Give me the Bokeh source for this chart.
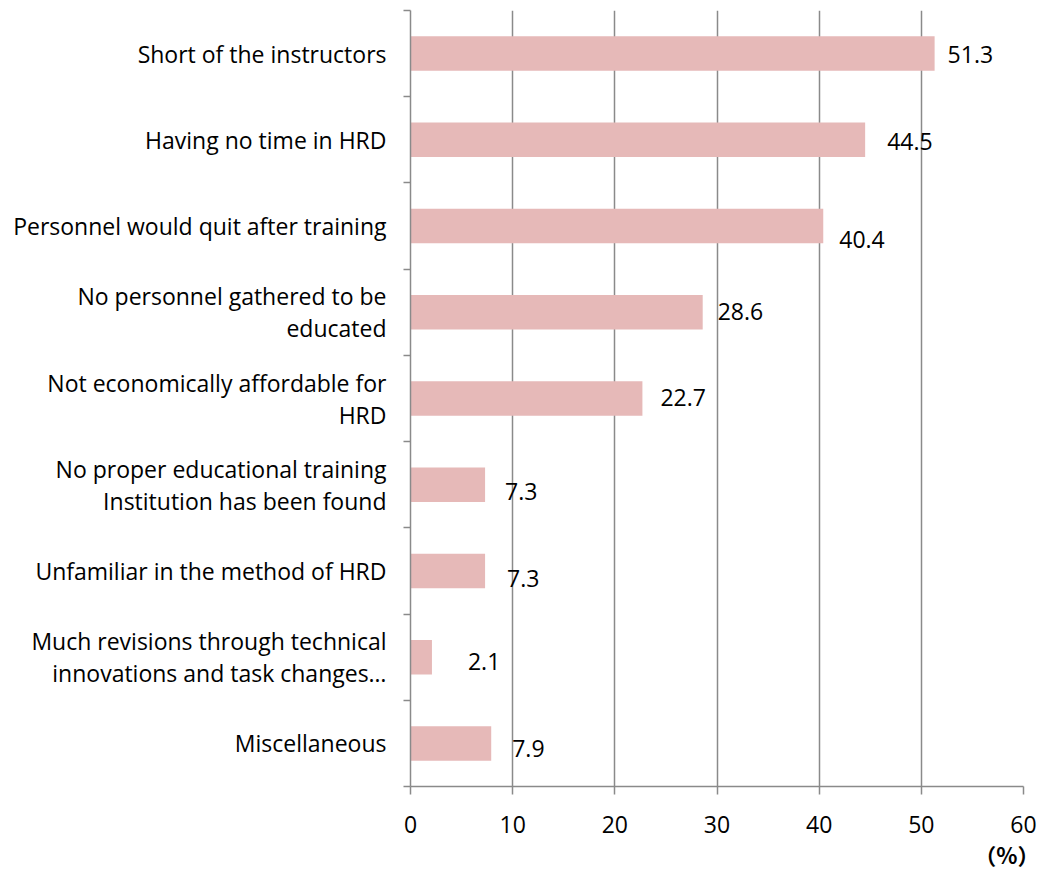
from bokeh.plotting import figure
from bokeh.models import Range1d, FixedTicker, Title, ColumnDataSource
from bokeh.core.properties import value
from bokeh.embed import file_html
from bokeh.resources import INLINE

categories = [
    "Short of the instructors",
    "Having no time in HRD",
    "Personnel would quit after training",
    "No personnel gathered to be\neducated",
    "Not economically affordable for\nHRD",
    "No proper educational training\nInstitution has been found",
    "Unfamiliar in the method of HRD",
    "Much revisions through technical\ninnovations and task changes…",
    "Miscellaneous",
]
values = [51.3, 44.5, 40.4, 28.6, 22.7, 7.3, 7.3, 2.1, 7.9]
x_ticks = [0, 10, 20, 30, 40, 50, 60]
unit_text = "（%）"

# label nudges in screen pixels (layout only)
label_dx = [13, 22, 16, 15, 18, 20, 22, 36, 21]
label_dy = [1, 2, 13, -1, -1, 7, 8, 4, 5]

n = len(categories)
centers = [i + 0.5 for i in range(n)]
labels = [f"{v:.1f}" for v in values]

FONT = "Open Sans"
FS = "23px"
GRAY = "#8a8a8a"

p = figure(
    frame_width=613, frame_height=776,
    x_range=Range1d(0, 60), y_range=Range1d(n, 0),
    output_backend="svg", toolbar_location=None,
    min_border_left=410, min_border_top=10, min_border_right=16, min_border_bottom=4,
)
p.outline_line_color = None
p.background_fill_color = "white"
p.border_fill_color = "white"

src = ColumnDataSource(dict(y=centers, right=values, text=labels, dx=label_dx, dy=label_dy))
p.hbar(y="y", left=0, right="right", height=0.4, source=src,
       fill_color="#E6B9B8", line_color=None)
p.text(x="right", y="y", text="text", x_offset="dx", y_offset="dy", source=src,
       text_font=value(FONT), text_font_size=FS, text_color="black",
       text_align="left", text_baseline="middle")

# grid
p.ygrid.visible = False
p.xgrid.ticker = FixedTicker(ticks=x_ticks)
p.xgrid.grid_line_color = GRAY
p.xgrid.grid_line_width = 1.5

# x axis
p.xaxis.ticker = FixedTicker(ticks=x_ticks)
p.xaxis.axis_line_color = GRAY
p.xaxis.axis_line_width = 1.5
p.xaxis.major_tick_line_color = GRAY
p.xaxis.major_tick_line_width = 1.5
p.xaxis.major_tick_out = 8
p.xaxis.major_tick_in = 0
p.xaxis.minor_tick_line_color = None
p.xaxis.major_label_text_font = FONT
p.xaxis.major_label_text_font_size = FS
p.xaxis.major_label_text_color = "black"
p.xaxis.major_label_standoff = 21

# y axis
p.yaxis.ticker = FixedTicker(ticks=centers, minor_ticks=list(range(n + 1)))
p.yaxis.major_label_overrides = {c: lab for c, lab in zip(centers, categories)}
p.yaxis.axis_line_color = GRAY
p.yaxis.axis_line_width = 1.5
p.yaxis.major_tick_line_color = None
p.yaxis.major_tick_out = 0
p.yaxis.major_tick_in = 0
p.yaxis.minor_tick_line_color = GRAY
p.yaxis.minor_tick_line_width = 1.5
p.yaxis.minor_tick_out = 7
p.yaxis.minor_tick_in = 0
p.yaxis.major_label_text_font = FONT
p.yaxis.major_label_text_font_size = FS
p.yaxis.major_label_text_color = "black"
p.yaxis.major_label_text_line_height = 1.0
p.yaxis.major_label_standoff = 17

unit = Title(text=unit_text, align="right", offset=-16, standoff=0,
             text_font="Noto Sans CJK JP", text_font_size="22px",
             text_font_style="bold", text_color="black")
p.add_layout(unit, "below")

open("out.html", "w").write(file_html(p, INLINE))
